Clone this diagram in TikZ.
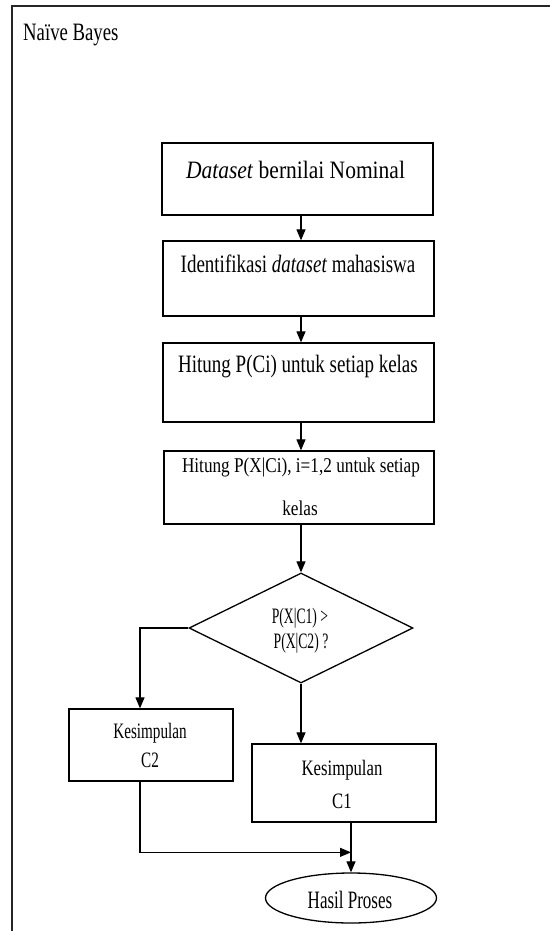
\documentclass[tikz,border=0pt]{standalone}
\usepackage{fontspec}
\setmainfont{Liberation Serif}
\usepackage{graphicx}
\usetikzlibrary{arrows.meta,shapes.geometric,calc}
\newcommand\mytx[3]{\scalebox{#1}[1]{\fontsize{#2}{#2}\selectfont #3}}
\tikzset{
  boxst/.style={draw=black, line width=1.3pt, rectangle, inner sep=0pt},
  txt/.style={inner sep=0pt, anchor=base},
  arr/.style={draw=black, line width=1.2pt, -{Triangle[length=11pt,width=9pt]}},
  ln/.style={draw=black, line width=1.2pt}
}
\begin{document}
\begin{tikzpicture}[x=1pt,y=-1pt]
\useasboundingbox (0,0) rectangle (550,931);
\fill[white] (0,0) rectangle (550,931);
% frame
\draw[line width=2pt, black!85] (550,6) -- (12,6) -- (12,931);
\node[txt, anchor=base west] (title) at (23,41) {\mytx{0.75}{25pt}{Naïve Bayes}};
% boxes
\node[boxst, minimum width=271pt, minimum height=72pt] (b1) at (297.5,179) {};
\node[txt] (t1) at (295.5,178) {\mytx{0.86}{25pt}{\textit{Dataset} bernilai Nominal}};
\node[boxst, minimum width=271pt, minimum height=75pt] (b2) at (298.5,278.5) {};
\node[txt] (t2) at (298,272) {\mytx{0.76}{25pt}{Identifikasi \textit{dataset} mahasiswa}};
\node[boxst, minimum width=271pt, minimum height=79pt] (b3) at (298.5,382.5) {};
\node[txt] (t3) at (298,372) {\mytx{0.76}{25pt}{Hitung P(Ci) untuk setiap kelas}};
\node[boxst, minimum width=270pt, minimum height=73pt] (b4) at (299,487.5) {};
\node[txt] (t4a) at (301,472) {\mytx{0.82}{21pt}{Hitung P(X|Ci), i=1,2 untuk setiap}};
\node[txt] (t4b) at (300,515) {\mytx{0.82}{21pt}{kelas}};
% decision
\node[draw=black, line width=1.3pt, diamond, inner sep=0pt, minimum width=224pt, minimum height=110pt] (d) at (301,628) {};
\node[txt] (dt1) at (300,623) {\mytx{0.62}{22pt}{P(X|C1) >}};
\node[txt] (dt2) at (301,648) {\mytx{0.62}{22pt}{P(X|C2) ?}};
% conclusions
\node[boxst, minimum width=164pt, minimum height=72pt] (c2) at (151,745) {};
\node[txt] (c2a) at (150,738) {\mytx{0.69}{22pt}{Kesimpulan}};
\node[txt] (c2b) at (150,767) {\mytx{0.69}{22pt}{C2}};
\node[boxst, minimum width=184pt, minimum height=78pt] (c1) at (344,783) {};
\node[txt] (c1a) at (342,775) {\mytx{0.76}{22pt}{Kesimpulan}};
\node[txt] (c1b) at (342,808) {\mytx{0.76}{22pt}{C1}};
% end
\node[draw=black, line width=1.3pt, ellipse, inner sep=0pt, minimum width=171pt, minimum height=50pt] (e) at (351,898) {};
\node[txt] (et) at (350,908) {\mytx{0.68}{25pt}{Hasil Proses}};
% connectors
\draw[arr] (b1.south -| d.north) -- (b2.north -| d.north);
\draw[arr] (b2.south -| d.north) -- (b3.north -| d.north);
\draw[arr] (b3.south -| d.north) -- (b4.north -| d.north);
\draw[arr] (b4.south -| d.north) -- (d.north);
\draw[arr] (d.west) -| ([xshift=-11pt]c2.north);
\draw[arr] (d.south) -- (d.south |- c1.north);
\coordinate (m) at ($(e.north)+(0,-20)$);
\draw[arr] ([xshift=-11pt]c2.south) |- (m);
\draw[arr] (e.north |- c1.south) -- (e.north);
\end{tikzpicture}
\end{document}
